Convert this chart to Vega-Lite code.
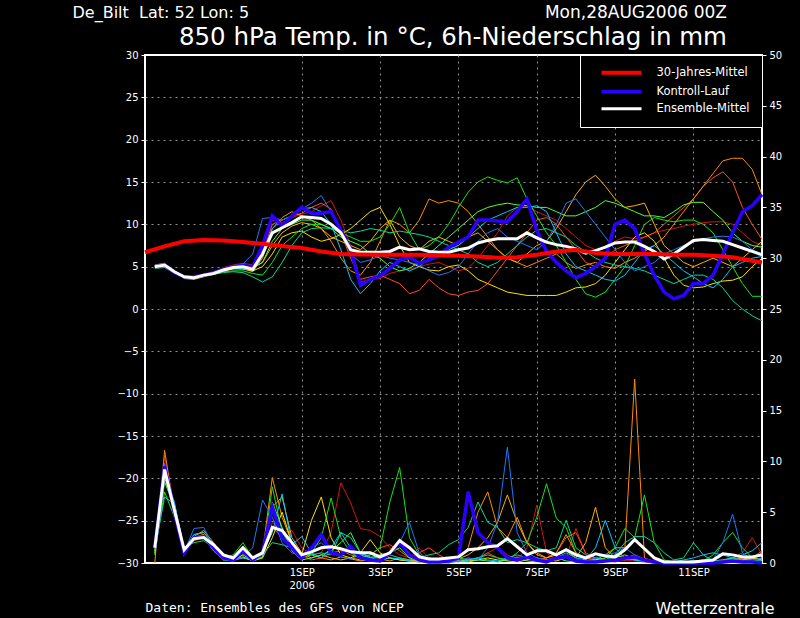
{
  "$schema": "https://vega.github.io/schema/vega-lite/v6.json",
  "width": 617,
  "height": 508,
  "autosize": "none",
  "padding": {"left": 145, "top": 55, "right": 38, "bottom": 55},
  "background": "black",
  "title": {
    "text": "Mon,28AUG2006 00Z",
    "subtitle": "850 hPa Temp. in °C, 6h-Niederschlag in mm",
    "anchor": "end",
    "frame": "group",
    "dx": -35,
    "offset": -46,
    "font": "DejaVu Sans",
    "fontSize": 17,
    "fontWeight": "normal",
    "color": "white",
    "subtitleFont": "DejaVu Sans",
    "subtitleFontSize": 24.5,
    "subtitleColor": "white",
    "subtitlePadding": 4
  },
  "datasets": {
    "members": [
      {"m":1,"h":6,"t":5.1,"p":1.2},{"m":1,"h":12,"t":5.3,"p":10.5},{"m":1,"h":18,"t":4.5,"p":5.5},{"m":1,"h":24,"t":3.9,"p":1.2},{"m":1,"h":30,"t":3.7,"p":2.5},{"m":1,"h":36,"t":4.1,"p":2.8},{"m":1,"h":42,"t":4.4,"p":1.5},{"m":1,"h":48,"t":4.9,"p":0.4},{"m":1,"h":54,"t":5.2,"p":0.3},{"m":1,"h":60,"t":5.4,"p":1.0},{"m":1,"h":66,"t":5.2,"p":0.3},{"m":1,"h":72,"t":7.0,"p":0.8},{"m":1,"h":78,"t":10.5,"p":4.0},{"m":1,"h":84,"t":10.2,"p":3.0},{"m":1,"h":90,"t":10.8,"p":3.2},{"m":1,"h":96,"t":11.2,"p":1.5},{"m":1,"h":102,"t":11.5,"p":0.8},{"m":1,"h":108,"t":12.2,"p":1.0},{"m":1,"h":114,"t":12.8,"p":3.0},{"m":1,"h":120,"t":10.5,"p":7.9},{"m":1,"h":126,"t":7.5,"p":5.9},{"m":1,"h":132,"t":3.2,"p":3.4},{"m":1,"h":138,"t":3.5,"p":3.2},{"m":1,"h":144,"t":3.6,"p":2.6},{"m":1,"h":150,"t":4.2,"p":1.5},{"m":1,"h":156,"t":4.5,"p":0.8},{"m":1,"h":162,"t":4.7,"p":0.5},{"m":1,"h":168,"t":5.0,"p":1.5},{"m":1,"h":174,"t":5.3,"p":0.5},{"m":1,"h":180,"t":5.5,"p":0.2},{"m":1,"h":186,"t":5.0,"p":0.1},{"m":1,"h":192,"t":4.5,"p":0.2},{"m":1,"h":198,"t":4.8,"p":0.5},{"m":1,"h":204,"t":6.0,"p":0.3},{"m":1,"h":210,"t":7.5,"p":1.0},{"m":1,"h":216,"t":9.0,"p":1.5},{"m":1,"h":222,"t":11.0,"p":0.8},{"m":1,"h":228,"t":12.0,"p":0.3},{"m":1,"h":234,"t":12.2,"p":1.5},{"m":1,"h":240,"t":11.5,"p":5.7},{"m":1,"h":246,"t":11.0,"p":1.0},{"m":1,"h":252,"t":10.5,"p":0.3},{"m":1,"h":258,"t":9.5,"p":0.5},{"m":1,"h":264,"t":8.5,"p":3.4},{"m":1,"h":270,"t":7.5,"p":0.8},{"m":1,"h":276,"t":7.0,"p":0.3},{"m":1,"h":282,"t":7.2,"p":0.2},{"m":1,"h":288,"t":8.0,"p":0.1},{"m":1,"h":294,"t":8.5,"p":0.3},{"m":1,"h":300,"t":8.3,"p":0.2},{"m":1,"h":306,"t":8.5,"p":0.1},{"m":1,"h":312,"t":9.0,"p":0},{"m":1,"h":318,"t":9.3,"p":0},{"m":1,"h":324,"t":9.5,"p":0},{"m":1,"h":330,"t":9.8,"p":0.1},{"m":1,"h":336,"t":10.0,"p":0.2},{"m":1,"h":342,"t":10.2,"p":0.1},{"m":1,"h":348,"t":10.3,"p":0},{"m":1,"h":354,"t":10.3,"p":0.3},{"m":1,"h":360,"t":10.0,"p":0.5},{"m":1,"h":366,"t":9.0,"p":1.0},{"m":1,"h":372,"t":8.0,"p":2.5},{"m":1,"h":378,"t":7.5,"p":0.8},
      {"m":2,"h":6,"t":4.8,"p":1.0},{"m":2,"h":12,"t":5.0,"p":9.5},{"m":2,"h":18,"t":4.3,"p":5.0},{"m":2,"h":24,"t":3.7,"p":1.0},{"m":2,"h":30,"t":3.6,"p":2.2},{"m":2,"h":36,"t":3.9,"p":2.5},{"m":2,"h":42,"t":4.1,"p":1.2},{"m":2,"h":48,"t":4.5,"p":0.3},{"m":2,"h":54,"t":4.8,"p":0.5},{"m":2,"h":60,"t":4.9,"p":1.2},{"m":2,"h":66,"t":4.6,"p":0.5},{"m":2,"h":72,"t":6.5,"p":0.6},{"m":2,"h":78,"t":10.0,"p":3.5},{"m":2,"h":84,"t":10.5,"p":2.5},{"m":2,"h":90,"t":11.0,"p":1.5},{"m":2,"h":96,"t":11.3,"p":0.8},{"m":2,"h":102,"t":12.0,"p":0.3},{"m":2,"h":108,"t":12.5,"p":0.5},{"m":2,"h":114,"t":11.8,"p":1.0},{"m":2,"h":120,"t":9.0,"p":1.2},{"m":2,"h":126,"t":6.0,"p":0.8},{"m":2,"h":132,"t":3.5,"p":0.5},{"m":2,"h":138,"t":3.8,"p":0.8},{"m":2,"h":144,"t":4.0,"p":1.5},{"m":2,"h":150,"t":3.5,"p":1.8},{"m":2,"h":156,"t":3.0,"p":1.2},{"m":2,"h":162,"t":1.8,"p":0.5},{"m":2,"h":168,"t":2.2,"p":1.0},{"m":2,"h":174,"t":3.5,"p":1.5},{"m":2,"h":180,"t":2.5,"p":0.8},{"m":2,"h":186,"t":1.8,"p":0.3},{"m":2,"h":192,"t":1.6,"p":0.2},{"m":2,"h":198,"t":2.0,"p":0.3},{"m":2,"h":204,"t":2.2,"p":0.5},{"m":2,"h":210,"t":3.0,"p":1.0},{"m":2,"h":216,"t":4.5,"p":0.5},{"m":2,"h":222,"t":6.0,"p":0.3},{"m":2,"h":228,"t":7.5,"p":0.6},{"m":2,"h":234,"t":9.0,"p":0.4},{"m":2,"h":240,"t":10.5,"p":0.2},{"m":2,"h":246,"t":10.8,"p":0.5},{"m":2,"h":252,"t":10.0,"p":1.0},{"m":2,"h":258,"t":8.5,"p":2.5},{"m":2,"h":264,"t":7.0,"p":3.0},{"m":2,"h":270,"t":5.5,"p":1.0},{"m":2,"h":276,"t":5.0,"p":0.5},{"m":2,"h":282,"t":6.0,"p":0.3},{"m":2,"h":288,"t":7.0,"p":0.2},{"m":2,"h":294,"t":7.5,"p":0.5},{"m":2,"h":300,"t":8.0,"p":0.8},{"m":2,"h":306,"t":8.5,"p":0.4},{"m":2,"h":312,"t":9.0,"p":0.2},{"m":2,"h":318,"t":10.0,"p":0.1},{"m":2,"h":324,"t":11.0,"p":0},{"m":2,"h":330,"t":12.0,"p":0},{"m":2,"h":336,"t":13.0,"p":0},{"m":2,"h":342,"t":14.5,"p":0},{"m":2,"h":348,"t":15.5,"p":0.2},{"m":2,"h":354,"t":16.2,"p":0.3},{"m":2,"h":360,"t":15.0,"p":0.5},{"m":2,"h":366,"t":12.0,"p":0.3},{"m":2,"h":372,"t":10.0,"p":0.5},{"m":2,"h":378,"t":8.2,"p":1.2},
      {"m":3,"h":6,"t":5.0,"p":0},{"m":3,"h":12,"t":5.2,"p":11.1},{"m":3,"h":18,"t":4.4,"p":5.0},{"m":3,"h":24,"t":3.8,"p":1.3},{"m":3,"h":30,"t":3.7,"p":2.8},{"m":3,"h":36,"t":3.9,"p":3.0},{"m":3,"h":42,"t":4.2,"p":1.8},{"m":3,"h":48,"t":4.5,"p":0.5},{"m":3,"h":54,"t":4.7,"p":0.2},{"m":3,"h":60,"t":4.8,"p":0.8},{"m":3,"h":66,"t":4.4,"p":0.2},{"m":3,"h":72,"t":6.0,"p":1.0},{"m":3,"h":78,"t":9.5,"p":8.4},{"m":3,"h":84,"t":10.8,"p":4.5},{"m":3,"h":90,"t":11.5,"p":2.0},{"m":3,"h":96,"t":11.0,"p":0.5},{"m":3,"h":102,"t":10.5,"p":0.8},{"m":3,"h":108,"t":9.5,"p":0.5},{"m":3,"h":114,"t":8.0,"p":0.3},{"m":3,"h":120,"t":6.0,"p":0.6},{"m":3,"h":126,"t":4.5,"p":0.4},{"m":3,"h":132,"t":4.0,"p":0.2},{"m":3,"h":138,"t":5.5,"p":0.3},{"m":3,"h":144,"t":8.0,"p":0.4},{"m":3,"h":150,"t":10.5,"p":0.2},{"m":3,"h":156,"t":10.0,"p":0.5},{"m":3,"h":162,"t":9.0,"p":0.3},{"m":3,"h":168,"t":10.5,"p":0.1},{"m":3,"h":174,"t":13.0,"p":0},{"m":3,"h":180,"t":12.5,"p":0.1},{"m":3,"h":186,"t":12.8,"p":0.3},{"m":3,"h":192,"t":12.5,"p":0.5},{"m":3,"h":198,"t":11.5,"p":1.5},{"m":3,"h":204,"t":10.0,"p":5.0},{"m":3,"h":210,"t":8.5,"p":7.0},{"m":3,"h":216,"t":7.0,"p":3.5},{"m":3,"h":222,"t":6.0,"p":2.5},{"m":3,"h":228,"t":5.5,"p":4.5},{"m":3,"h":234,"t":5.0,"p":2.0},{"m":3,"h":240,"t":5.5,"p":0.8},{"m":3,"h":246,"t":6.0,"p":0.5},{"m":3,"h":252,"t":6.5,"p":1.0},{"m":3,"h":258,"t":5.5,"p":2.8},{"m":3,"h":264,"t":4.8,"p":1.0},{"m":3,"h":270,"t":5.2,"p":0.5},{"m":3,"h":276,"t":5.5,"p":0.3},{"m":3,"h":282,"t":5.0,"p":0.8},{"m":3,"h":288,"t":4.8,"p":1.5},{"m":3,"h":294,"t":5.5,"p":1.5},{"m":3,"h":300,"t":6.0,"p":18.1},{"m":3,"h":306,"t":6.8,"p":0.5},{"m":3,"h":312,"t":7.5,"p":0.1},{"m":3,"h":318,"t":8.5,"p":0},{"m":3,"h":324,"t":10.0,"p":0},{"m":3,"h":330,"t":11.5,"p":0.1},{"m":3,"h":336,"t":13.0,"p":0.2},{"m":3,"h":342,"t":14.5,"p":0},{"m":3,"h":348,"t":16.0,"p":0},{"m":3,"h":354,"t":17.5,"p":0.1},{"m":3,"h":360,"t":17.8,"p":0.3},{"m":3,"h":366,"t":17.8,"p":0.5},{"m":3,"h":372,"t":16.5,"p":0.3},{"m":3,"h":378,"t":13.5,"p":0.5},
      {"m":4,"h":6,"t":5.2,"p":1.5},{"m":4,"h":12,"t":5.4,"p":9.0},{"m":4,"h":18,"t":4.5,"p":4.8},{"m":4,"h":24,"t":3.6,"p":1.0},{"m":4,"h":30,"t":3.5,"p":2.6},{"m":4,"h":36,"t":3.8,"p":3.2},{"m":4,"h":42,"t":4.1,"p":2.0},{"m":4,"h":48,"t":4.6,"p":0.6},{"m":4,"h":54,"t":5.0,"p":0.3},{"m":4,"h":60,"t":5.1,"p":0.5},{"m":4,"h":66,"t":4.8,"p":0.3},{"m":4,"h":72,"t":5.5,"p":1.2},{"m":4,"h":78,"t":7.5,"p":5.5},{"m":4,"h":84,"t":9.0,"p":6.5},{"m":4,"h":90,"t":9.8,"p":2.5},{"m":4,"h":96,"t":10.2,"p":1.0},{"m":4,"h":102,"t":10.0,"p":0.5},{"m":4,"h":108,"t":9.5,"p":0.8},{"m":4,"h":114,"t":8.5,"p":0.5},{"m":4,"h":120,"t":8.0,"p":0.3},{"m":4,"h":126,"t":7.5,"p":0.5},{"m":4,"h":132,"t":7.0,"p":0.3},{"m":4,"h":138,"t":8.0,"p":0.2},{"m":4,"h":144,"t":9.5,"p":0.3},{"m":4,"h":150,"t":10.5,"p":0.5},{"m":4,"h":156,"t":8.5,"p":0.3},{"m":4,"h":162,"t":7.5,"p":0.2},{"m":4,"h":168,"t":7.0,"p":0.3},{"m":4,"h":174,"t":8.0,"p":0.5},{"m":4,"h":180,"t":8.5,"p":0.3},{"m":4,"h":186,"t":8.0,"p":0.2},{"m":4,"h":192,"t":7.5,"p":0.4},{"m":4,"h":198,"t":8.5,"p":0.8},{"m":4,"h":204,"t":9.0,"p":1.5},{"m":4,"h":210,"t":8.0,"p":2.5},{"m":4,"h":216,"t":7.0,"p":4.0},{"m":4,"h":222,"t":6.0,"p":6.7},{"m":4,"h":228,"t":5.5,"p":4.0},{"m":4,"h":234,"t":6.5,"p":2.0},{"m":4,"h":240,"t":7.5,"p":1.0},{"m":4,"h":246,"t":8.0,"p":0.5},{"m":4,"h":252,"t":9.5,"p":0.8},{"m":4,"h":258,"t":11.5,"p":1.2},{"m":4,"h":264,"t":13.5,"p":0.5},{"m":4,"h":270,"t":15.0,"p":2.0},{"m":4,"h":276,"t":15.8,"p":5.5},{"m":4,"h":282,"t":14.5,"p":1.5},{"m":4,"h":288,"t":13.0,"p":0.5},{"m":4,"h":294,"t":12.0,"p":0.3},{"m":4,"h":300,"t":12.2,"p":0.5},{"m":4,"h":306,"t":12.5,"p":0.2},{"m":4,"h":312,"t":10.0,"p":0.1},{"m":4,"h":318,"t":7.5,"p":0},{"m":4,"h":324,"t":6.5,"p":0.1},{"m":4,"h":330,"t":5.5,"p":0},{"m":4,"h":336,"t":5.0,"p":0.2},{"m":4,"h":342,"t":5.5,"p":0.3},{"m":4,"h":348,"t":6.0,"p":0.1},{"m":4,"h":354,"t":5.5,"p":0},{"m":4,"h":360,"t":5.0,"p":0.2},{"m":4,"h":366,"t":6.0,"p":0.3},{"m":4,"h":372,"t":7.0,"p":0.5},{"m":4,"h":378,"t":8.0,"p":0.3},
      {"m":5,"h":6,"t":5.1,"p":1.2},{"m":5,"h":12,"t":5.1,"p":8.5},{"m":5,"h":18,"t":4.3,"p":5.0},{"m":5,"h":24,"t":3.8,"p":1.2},{"m":5,"h":30,"t":3.8,"p":2.5},{"m":5,"h":36,"t":4.1,"p":2.8},{"m":5,"h":42,"t":4.3,"p":1.5},{"m":5,"h":48,"t":4.5,"p":0.5},{"m":5,"h":54,"t":4.8,"p":0.3},{"m":5,"h":60,"t":4.7,"p":0.6},{"m":5,"h":66,"t":4.5,"p":0.2},{"m":5,"h":72,"t":5.0,"p":0.5},{"m":5,"h":78,"t":6.5,"p":2.5},{"m":5,"h":84,"t":8.5,"p":5.0},{"m":5,"h":90,"t":9.0,"p":2.0},{"m":5,"h":96,"t":9.2,"p":0.8},{"m":5,"h":102,"t":8.5,"p":4.2},{"m":5,"h":108,"t":8.0,"p":6.5},{"m":5,"h":114,"t":8.3,"p":2.5},{"m":5,"h":120,"t":8.8,"p":0.8},{"m":5,"h":126,"t":9.5,"p":0.5},{"m":5,"h":132,"t":10.5,"p":1.0},{"m":5,"h":138,"t":11.5,"p":2.3},{"m":5,"h":144,"t":12.0,"p":1.0},{"m":5,"h":150,"t":10.0,"p":0.5},{"m":5,"h":156,"t":7.5,"p":0.3},{"m":5,"h":162,"t":5.5,"p":0.2},{"m":5,"h":168,"t":5.0,"p":0.1},{"m":5,"h":174,"t":4.6,"p":0.2},{"m":5,"h":180,"t":4.5,"p":0.3},{"m":5,"h":186,"t":5.0,"p":0.5},{"m":5,"h":192,"t":5.2,"p":0.3},{"m":5,"h":198,"t":4.5,"p":0.2},{"m":5,"h":204,"t":3.5,"p":0.3},{"m":5,"h":210,"t":3.0,"p":0.5},{"m":5,"h":216,"t":2.5,"p":0.3},{"m":5,"h":222,"t":2.0,"p":0.2},{"m":5,"h":228,"t":1.8,"p":0.1},{"m":5,"h":234,"t":1.6,"p":0.3},{"m":5,"h":240,"t":1.6,"p":0.5},{"m":5,"h":246,"t":1.6,"p":0.3},{"m":5,"h":252,"t":1.6,"p":0.2},{"m":5,"h":258,"t":2.0,"p":0.5},{"m":5,"h":264,"t":2.5,"p":0.3},{"m":5,"h":270,"t":2.6,"p":0.2},{"m":5,"h":276,"t":3.0,"p":0.3},{"m":5,"h":282,"t":4.0,"p":0.5},{"m":5,"h":288,"t":5.5,"p":0.8},{"m":5,"h":294,"t":7.0,"p":0.5},{"m":5,"h":300,"t":8.5,"p":0.3},{"m":5,"h":306,"t":9.0,"p":0.2},{"m":5,"h":312,"t":8.0,"p":0.1},{"m":5,"h":318,"t":6.0,"p":0},{"m":5,"h":324,"t":4.0,"p":0},{"m":5,"h":330,"t":2.8,"p":0},{"m":5,"h":336,"t":2.5,"p":0.1},{"m":5,"h":342,"t":2.6,"p":0.2},{"m":5,"h":348,"t":3.0,"p":0.1},{"m":5,"h":354,"t":3.3,"p":0},{"m":5,"h":360,"t":3.4,"p":0.1},{"m":5,"h":366,"t":3.8,"p":0.3},{"m":5,"h":372,"t":5.0,"p":0.5},{"m":5,"h":378,"t":6.0,"p":0.4},
      {"m":6,"h":6,"t":4.9,"p":1.0},{"m":6,"h":12,"t":5.0,"p":7.0},{"m":6,"h":18,"t":4.3,"p":4.5},{"m":6,"h":24,"t":3.9,"p":1.5},{"m":6,"h":30,"t":3.8,"p":2.0},{"m":6,"h":36,"t":4.1,"p":2.2},{"m":6,"h":42,"t":4.2,"p":1.5},{"m":6,"h":48,"t":4.4,"p":0.5},{"m":6,"h":54,"t":4.5,"p":0.8},{"m":6,"h":60,"t":4.5,"p":2.0},{"m":6,"h":66,"t":4.2,"p":0.5},{"m":6,"h":72,"t":4.0,"p":0.5},{"m":6,"h":78,"t":5.5,"p":7.5},{"m":6,"h":84,"t":7.5,"p":3.0},{"m":6,"h":90,"t":8.5,"p":1.5},{"m":6,"h":96,"t":9.5,"p":0.5},{"m":6,"h":102,"t":10.0,"p":1.0},{"m":6,"h":108,"t":10.0,"p":2.5},{"m":6,"h":114,"t":9.5,"p":6.4},{"m":6,"h":120,"t":9.0,"p":2.5},{"m":6,"h":126,"t":8.5,"p":1.0},{"m":6,"h":132,"t":8.0,"p":0.5},{"m":6,"h":138,"t":8.0,"p":0.8},{"m":6,"h":144,"t":8.5,"p":1.5},{"m":6,"h":150,"t":10.0,"p":6.0},{"m":6,"h":156,"t":12.0,"p":9.4},{"m":6,"h":162,"t":9.0,"p":2.5},{"m":6,"h":168,"t":7.0,"p":0.8},{"m":6,"h":174,"t":7.5,"p":0.3},{"m":6,"h":180,"t":8.5,"p":0.2},{"m":6,"h":186,"t":10.0,"p":0.3},{"m":6,"h":192,"t":12.0,"p":0.5},{"m":6,"h":198,"t":13.8,"p":0.3},{"m":6,"h":204,"t":15.0,"p":0.5},{"m":6,"h":210,"t":15.6,"p":0.8},{"m":6,"h":216,"t":15.2,"p":0.5},{"m":6,"h":222,"t":14.9,"p":0.3},{"m":6,"h":228,"t":15.5,"p":1.0},{"m":6,"h":234,"t":13.0,"p":2.0},{"m":6,"h":240,"t":11.0,"p":4.5},{"m":6,"h":246,"t":9.0,"p":7.8},{"m":6,"h":252,"t":7.5,"p":4.4},{"m":6,"h":258,"t":5.5,"p":3.5},{"m":6,"h":264,"t":3.5,"p":1.0},{"m":6,"h":270,"t":1.8,"p":0.3},{"m":6,"h":276,"t":1.4,"p":0.2},{"m":6,"h":282,"t":2.0,"p":0.5},{"m":6,"h":288,"t":3.5,"p":1.5},{"m":6,"h":294,"t":5.0,"p":3.4},{"m":6,"h":300,"t":7.5,"p":2.5},{"m":6,"h":306,"t":10.0,"p":6.7},{"m":6,"h":312,"t":10.8,"p":2.0},{"m":6,"h":318,"t":10.5,"p":0.3},{"m":6,"h":324,"t":10.3,"p":0.1},{"m":6,"h":330,"t":10.5,"p":0},{"m":6,"h":336,"t":10.5,"p":0},{"m":6,"h":342,"t":10.0,"p":0.2},{"m":6,"h":348,"t":9.0,"p":0.8},{"m":6,"h":354,"t":7.0,"p":2.0},{"m":6,"h":360,"t":5.0,"p":3.0},{"m":6,"h":366,"t":3.0,"p":1.5},{"m":6,"h":372,"t":1.5,"p":0.5},{"m":6,"h":378,"t":1.5,"p":1.0},
      {"m":7,"h":6,"t":5.0,"p":0.8},{"m":7,"h":12,"t":5.1,"p":8.0},{"m":7,"h":18,"t":4.4,"p":5.5},{"m":7,"h":24,"t":3.7,"p":1.0},{"m":7,"h":30,"t":3.6,"p":2.3},{"m":7,"h":36,"t":4.0,"p":2.6},{"m":7,"h":42,"t":4.3,"p":1.8},{"m":7,"h":48,"t":4.7,"p":0.8},{"m":7,"h":54,"t":5.1,"p":0.3},{"m":7,"h":60,"t":5.2,"p":0.8},{"m":7,"h":66,"t":4.9,"p":0.3},{"m":7,"h":72,"t":5.5,"p":0.5},{"m":7,"h":78,"t":8.0,"p":6.0},{"m":7,"h":84,"t":9.5,"p":3.5},{"m":7,"h":90,"t":10.0,"p":1.2},{"m":7,"h":96,"t":10.5,"p":0.3},{"m":7,"h":102,"t":10.5,"p":0.5},{"m":7,"h":108,"t":10.0,"p":0.8},{"m":7,"h":114,"t":9.5,"p":1.2},{"m":7,"h":120,"t":8.5,"p":2.0},{"m":7,"h":126,"t":8.0,"p":3.0},{"m":7,"h":132,"t":7.5,"p":1.0},{"m":7,"h":138,"t":6.5,"p":0.5},{"m":7,"h":144,"t":6.0,"p":0.8},{"m":7,"h":150,"t":5.0,"p":1.0},{"m":7,"h":156,"t":4.5,"p":1.5},{"m":7,"h":162,"t":4.8,"p":0.5},{"m":7,"h":168,"t":5.5,"p":0.2},{"m":7,"h":174,"t":6.5,"p":0.1},{"m":7,"h":180,"t":7.5,"p":0},{"m":7,"h":186,"t":8.5,"p":0},{"m":7,"h":192,"t":9.5,"p":0.2},{"m":7,"h":198,"t":10.5,"p":0.1},{"m":7,"h":204,"t":11.5,"p":0.3},{"m":7,"h":210,"t":12.0,"p":0.2},{"m":7,"h":216,"t":12.3,"p":0.1},{"m":7,"h":222,"t":12.5,"p":0.3},{"m":7,"h":228,"t":12.3,"p":0.5},{"m":7,"h":234,"t":12.2,"p":0.2},{"m":7,"h":240,"t":12.0,"p":0.1},{"m":7,"h":246,"t":12.0,"p":0.3},{"m":7,"h":252,"t":11.5,"p":0.5},{"m":7,"h":258,"t":11.0,"p":0.2},{"m":7,"h":264,"t":11.0,"p":0.1},{"m":7,"h":270,"t":11.5,"p":0},{"m":7,"h":276,"t":12.0,"p":0.1},{"m":7,"h":282,"t":12.8,"p":0.3},{"m":7,"h":288,"t":12.5,"p":0.5},{"m":7,"h":294,"t":12.0,"p":0.8},{"m":7,"h":300,"t":11.5,"p":0.4},{"m":7,"h":306,"t":11.0,"p":0.2},{"m":7,"h":312,"t":11.0,"p":0},{"m":7,"h":318,"t":10.8,"p":0},{"m":7,"h":324,"t":11.5,"p":0},{"m":7,"h":330,"t":12.3,"p":0.1},{"m":7,"h":336,"t":12.6,"p":0.2},{"m":7,"h":342,"t":12.6,"p":0.1},{"m":7,"h":348,"t":11.5,"p":0},{"m":7,"h":354,"t":10.5,"p":0.2},{"m":7,"h":360,"t":9.0,"p":0.4},{"m":7,"h":366,"t":8.0,"p":0.2},{"m":7,"h":372,"t":7.5,"p":0.1},{"m":7,"h":378,"t":7.3,"p":0.2},
      {"m":8,"h":6,"t":4.8,"p":1.3},{"m":8,"h":12,"t":4.9,"p":6.5},{"m":8,"h":18,"t":4.2,"p":5.8},{"m":8,"h":24,"t":3.8,"p":1.4},{"m":8,"h":30,"t":3.8,"p":2.4},{"m":8,"h":36,"t":3.9,"p":2.5},{"m":8,"h":42,"t":4.1,"p":1.2},{"m":8,"h":48,"t":4.3,"p":0.3},{"m":8,"h":54,"t":4.4,"p":0.2},{"m":8,"h":60,"t":4.3,"p":1.5},{"m":8,"h":66,"t":3.8,"p":0.5},{"m":8,"h":72,"t":3.2,"p":0.8},{"m":8,"h":78,"t":3.8,"p":2.0},{"m":8,"h":84,"t":5.5,"p":1.8},{"m":8,"h":90,"t":7.5,"p":1.5},{"m":8,"h":96,"t":9.0,"p":1.0},{"m":8,"h":102,"t":9.5,"p":0.8},{"m":8,"h":108,"t":9.6,"p":1.0},{"m":8,"h":114,"t":9.5,"p":0.8},{"m":8,"h":120,"t":9.3,"p":3.0},{"m":8,"h":126,"t":9.0,"p":2.5},{"m":8,"h":132,"t":9.2,"p":1.0},{"m":8,"h":138,"t":9.5,"p":0.6},{"m":8,"h":144,"t":9.3,"p":0.5},{"m":8,"h":150,"t":9.0,"p":0.8},{"m":8,"h":156,"t":9.2,"p":0.5},{"m":8,"h":162,"t":9.0,"p":0.3},{"m":8,"h":168,"t":8.8,"p":0.5},{"m":8,"h":174,"t":8.5,"p":0.8},{"m":8,"h":180,"t":8.0,"p":1.0},{"m":8,"h":186,"t":7.5,"p":1.8},{"m":8,"h":192,"t":7.0,"p":2.3},{"m":8,"h":198,"t":6.5,"p":3.5},{"m":8,"h":204,"t":5.5,"p":6.0},{"m":8,"h":210,"t":5.0,"p":4.0},{"m":8,"h":216,"t":5.5,"p":3.5},{"m":8,"h":222,"t":6.5,"p":2.0},{"m":8,"h":228,"t":7.5,"p":2.3},{"m":8,"h":234,"t":8.5,"p":2.0},{"m":8,"h":240,"t":9.3,"p":1.5},{"m":8,"h":246,"t":9.5,"p":1.2},{"m":8,"h":252,"t":9.0,"p":1.5},{"m":8,"h":258,"t":8.5,"p":4.2},{"m":8,"h":264,"t":7.5,"p":1.5},{"m":8,"h":270,"t":6.8,"p":0.8},{"m":8,"h":276,"t":6.0,"p":0.5},{"m":8,"h":282,"t":5.5,"p":0.3},{"m":8,"h":288,"t":5.2,"p":0.8},{"m":8,"h":294,"t":5.0,"p":2.0},{"m":8,"h":300,"t":4.8,"p":2.6},{"m":8,"h":306,"t":4.5,"p":2.6},{"m":8,"h":312,"t":4.0,"p":2.0},{"m":8,"h":318,"t":3.5,"p":1.0},{"m":8,"h":324,"t":3.0,"p":0.3},{"m":8,"h":330,"t":3.5,"p":0.5},{"m":8,"h":336,"t":4.0,"p":2.0},{"m":8,"h":342,"t":4.0,"p":0.8},{"m":8,"h":348,"t":3.5,"p":0.2},{"m":8,"h":354,"t":2.5,"p":0.3},{"m":8,"h":360,"t":1.0,"p":0.5},{"m":8,"h":366,"t":0.0,"p":0.3},{"m":8,"h":372,"t":-0.8,"p":0.2},{"m":8,"h":378,"t":-1.4,"p":0.3},
      {"m":9,"h":6,"t":5.0,"p":1.5},{"m":9,"h":12,"t":5.2,"p":8.8},{"m":9,"h":18,"t":4.4,"p":6.0},{"m":9,"h":24,"t":3.7,"p":1.3},{"m":9,"h":30,"t":3.6,"p":2.8},{"m":9,"h":36,"t":3.9,"p":3.0},{"m":9,"h":42,"t":4.2,"p":1.8},{"m":9,"h":48,"t":4.6,"p":0.6},{"m":9,"h":54,"t":4.8,"p":0.3},{"m":9,"h":60,"t":4.8,"p":0.5},{"m":9,"h":66,"t":4.6,"p":0.3},{"m":9,"h":72,"t":6.5,"p":1.0},{"m":9,"h":78,"t":9.5,"p":3.0},{"m":9,"h":84,"t":10.5,"p":6.8},{"m":9,"h":90,"t":11.0,"p":1.8},{"m":9,"h":96,"t":11.8,"p":2.6},{"m":9,"h":102,"t":12.0,"p":1.0},{"m":9,"h":108,"t":11.5,"p":0.5},{"m":9,"h":114,"t":10.0,"p":1.5},{"m":9,"h":120,"t":7.0,"p":3.0},{"m":9,"h":126,"t":3.5,"p":1.5},{"m":9,"h":132,"t":1.8,"p":0.8},{"m":9,"h":138,"t":3.0,"p":0.5},{"m":9,"h":144,"t":4.5,"p":0.3},{"m":9,"h":150,"t":5.5,"p":0.5},{"m":9,"h":156,"t":5.0,"p":0.4},{"m":9,"h":162,"t":4.5,"p":0.2},{"m":9,"h":168,"t":5.0,"p":0.1},{"m":9,"h":174,"t":6.0,"p":0.2},{"m":9,"h":180,"t":6.5,"p":0.3},{"m":9,"h":186,"t":7.0,"p":0.2},{"m":9,"h":192,"t":7.5,"p":0.1},{"m":9,"h":198,"t":8.5,"p":0.3},{"m":9,"h":204,"t":9.5,"p":0.5},{"m":9,"h":210,"t":10.5,"p":0.3},{"m":9,"h":216,"t":11.0,"p":0.2},{"m":9,"h":222,"t":11.5,"p":0.5},{"m":9,"h":228,"t":12.0,"p":0.8},{"m":9,"h":234,"t":12.0,"p":0.5},{"m":9,"h":240,"t":12.2,"p":0.3},{"m":9,"h":246,"t":11.5,"p":0.2},{"m":9,"h":252,"t":9.0,"p":0.5},{"m":9,"h":258,"t":6.5,"p":1.0},{"m":9,"h":264,"t":5.0,"p":0.5},{"m":9,"h":270,"t":4.5,"p":0.3},{"m":9,"h":276,"t":4.0,"p":1.5},{"m":9,"h":282,"t":3.5,"p":4.2},{"m":9,"h":288,"t":3.3,"p":1.5},{"m":9,"h":294,"t":4.0,"p":0.5},{"m":9,"h":300,"t":5.5,"p":0.3},{"m":9,"h":306,"t":7.0,"p":0.2},{"m":9,"h":312,"t":7.5,"p":0.1},{"m":9,"h":318,"t":6.5,"p":0},{"m":9,"h":324,"t":5.5,"p":0.1},{"m":9,"h":330,"t":4.5,"p":0.3},{"m":9,"h":336,"t":3.8,"p":0.5},{"m":9,"h":342,"t":3.0,"p":0.8},{"m":9,"h":348,"t":2.5,"p":1.0},{"m":9,"h":354,"t":3.5,"p":0.8},{"m":9,"h":360,"t":5.0,"p":0.5},{"m":9,"h":366,"t":5.5,"p":0.8},{"m":9,"h":372,"t":6.0,"p":1.2},{"m":9,"h":378,"t":6.2,"p":2.0},
      {"m":10,"h":6,"t":5.1,"p":1.3},{"m":10,"h":12,"t":5.3,"p":9.8},{"m":10,"h":18,"t":4.5,"p":5.2},{"m":10,"h":24,"t":3.9,"p":1.1},{"m":10,"h":30,"t":3.8,"p":3.4},{"m":10,"h":36,"t":4.1,"p":3.5},{"m":10,"h":42,"t":4.4,"p":1.6},{"m":10,"h":48,"t":4.8,"p":0.4},{"m":10,"h":54,"t":5.1,"p":0.2},{"m":10,"h":60,"t":5.3,"p":0.6},{"m":10,"h":66,"t":6.5,"p":1.5},{"m":10,"h":72,"t":10.7,"p":6.2},{"m":10,"h":78,"t":10.8,"p":4.5},{"m":10,"h":84,"t":10.5,"p":2.0},{"m":10,"h":90,"t":11.0,"p":1.0},{"m":10,"h":96,"t":11.8,"p":0.8},{"m":10,"h":102,"t":12.5,"p":1.5},{"m":10,"h":108,"t":13.4,"p":2.0},{"m":10,"h":114,"t":11.5,"p":1.0},{"m":10,"h":120,"t":9.0,"p":0.6},{"m":10,"h":126,"t":6.5,"p":0.4},{"m":10,"h":132,"t":5.5,"p":0.8},{"m":10,"h":138,"t":5.8,"p":1.0},{"m":10,"h":144,"t":6.3,"p":0.5},{"m":10,"h":150,"t":6.0,"p":1.0},{"m":10,"h":156,"t":5.8,"p":2.0},{"m":10,"h":162,"t":5.5,"p":4.0},{"m":10,"h":168,"t":5.2,"p":1.0},{"m":10,"h":174,"t":4.5,"p":0.3},{"m":10,"h":180,"t":4.0,"p":0.1},{"m":10,"h":186,"t":4.3,"p":0},{"m":10,"h":192,"t":5.0,"p":0.2},{"m":10,"h":198,"t":6.5,"p":0.5},{"m":10,"h":204,"t":8.0,"p":0.3},{"m":10,"h":210,"t":9.0,"p":1.5},{"m":10,"h":216,"t":9.5,"p":4.0},{"m":10,"h":222,"t":8.5,"p":11.4},{"m":10,"h":228,"t":8.0,"p":3.0},{"m":10,"h":234,"t":7.5,"p":1.0},{"m":10,"h":240,"t":7.0,"p":0.5},{"m":10,"h":246,"t":8.0,"p":0.3},{"m":10,"h":252,"t":10.0,"p":0.5},{"m":10,"h":258,"t":12.5,"p":0.8},{"m":10,"h":264,"t":13.0,"p":0.3},{"m":10,"h":270,"t":11.5,"p":0.2},{"m":10,"h":276,"t":10.0,"p":0.5},{"m":10,"h":282,"t":8.5,"p":0.8},{"m":10,"h":288,"t":7.0,"p":1.0},{"m":10,"h":294,"t":5.5,"p":1.5},{"m":10,"h":300,"t":4.5,"p":0.8},{"m":10,"h":306,"t":5.0,"p":0.3},{"m":10,"h":312,"t":5.5,"p":0.1},{"m":10,"h":318,"t":6.5,"p":0},{"m":10,"h":324,"t":7.0,"p":0},{"m":10,"h":330,"t":7.5,"p":0.1},{"m":10,"h":336,"t":8.0,"p":0.2},{"m":10,"h":342,"t":8.3,"p":0.1},{"m":10,"h":348,"t":8.5,"p":0.3},{"m":10,"h":354,"t":8.6,"p":2.0},{"m":10,"h":360,"t":8.5,"p":4.8},{"m":10,"h":366,"t":8.0,"p":1.0},{"m":10,"h":372,"t":7.0,"p":0.3},{"m":10,"h":378,"t":6.5,"p":0.5}
    ],
    "main": [
      {"s":"Kontroll-Lauf","h":6,"t":5.0,"p":1.5},{"s":"Kontroll-Lauf","h":12,"t":5.2,"p":9.5},{"s":"Kontroll-Lauf","h":18,"t":4.3,"p":5.0},{"s":"Kontroll-Lauf","h":24,"t":3.8,"p":1.0},{"s":"Kontroll-Lauf","h":30,"t":3.8,"p":2.5},{"s":"Kontroll-Lauf","h":36,"t":4.0,"p":2.6},{"s":"Kontroll-Lauf","h":42,"t":4.3,"p":1.5},{"s":"Kontroll-Lauf","h":48,"t":4.7,"p":0.5},{"s":"Kontroll-Lauf","h":54,"t":5.0,"p":0.3},{"s":"Kontroll-Lauf","h":60,"t":5.1,"p":1.2},{"s":"Kontroll-Lauf","h":66,"t":5.0,"p":0.3},{"s":"Kontroll-Lauf","h":72,"t":7.5,"p":1.0},{"s":"Kontroll-Lauf","h":78,"t":11.0,"p":5.5},{"s":"Kontroll-Lauf","h":84,"t":9.8,"p":2.5},{"s":"Kontroll-Lauf","h":90,"t":11.0,"p":1.5},{"s":"Kontroll-Lauf","h":96,"t":12.0,"p":0.5},{"s":"Kontroll-Lauf","h":102,"t":11.3,"p":1.5},{"s":"Kontroll-Lauf","h":108,"t":11.3,"p":2.8},{"s":"Kontroll-Lauf","h":114,"t":11.5,"p":1.0},{"s":"Kontroll-Lauf","h":120,"t":9.3,"p":0.8},{"s":"Kontroll-Lauf","h":126,"t":7.0,"p":1.6},{"s":"Kontroll-Lauf","h":132,"t":2.8,"p":0.5},{"s":"Kontroll-Lauf","h":138,"t":3.5,"p":0.3},{"s":"Kontroll-Lauf","h":144,"t":3.9,"p":0.2},{"s":"Kontroll-Lauf","h":150,"t":4.8,"p":1.0},{"s":"Kontroll-Lauf","h":156,"t":5.8,"p":2.0},{"s":"Kontroll-Lauf","h":162,"t":6.1,"p":0.8},{"s":"Kontroll-Lauf","h":168,"t":5.4,"p":0.3},{"s":"Kontroll-Lauf","h":174,"t":5.8,"p":0.1},{"s":"Kontroll-Lauf","h":180,"t":6.3,"p":0.1},{"s":"Kontroll-Lauf","h":186,"t":7.3,"p":0.2},{"s":"Kontroll-Lauf","h":192,"t":7.9,"p":0.5},{"s":"Kontroll-Lauf","h":198,"t":8.5,"p":7.0},{"s":"Kontroll-Lauf","h":204,"t":10.5,"p":3.0},{"s":"Kontroll-Lauf","h":210,"t":10.5,"p":2.0},{"s":"Kontroll-Lauf","h":216,"t":10.4,"p":1.5},{"s":"Kontroll-Lauf","h":222,"t":10.3,"p":0.5},{"s":"Kontroll-Lauf","h":228,"t":11.5,"p":0.3},{"s":"Kontroll-Lauf","h":234,"t":13.0,"p":0.6},{"s":"Kontroll-Lauf","h":240,"t":9.3,"p":0.3},{"s":"Kontroll-Lauf","h":246,"t":6.8,"p":0.1},{"s":"Kontroll-Lauf","h":252,"t":5.5,"p":0.5},{"s":"Kontroll-Lauf","h":258,"t":4.5,"p":0.6},{"s":"Kontroll-Lauf","h":264,"t":3.7,"p":0.2},{"s":"Kontroll-Lauf","h":270,"t":4.2,"p":0.1},{"s":"Kontroll-Lauf","h":276,"t":5.0,"p":0.1},{"s":"Kontroll-Lauf","h":282,"t":6.0,"p":0.2},{"s":"Kontroll-Lauf","h":288,"t":10.0,"p":0.3},{"s":"Kontroll-Lauf","h":294,"t":10.5,"p":0.5},{"s":"Kontroll-Lauf","h":300,"t":9.5,"p":0.6},{"s":"Kontroll-Lauf","h":306,"t":6.5,"p":0.3},{"s":"Kontroll-Lauf","h":312,"t":4.0,"p":0.1},{"s":"Kontroll-Lauf","h":318,"t":2.0,"p":0},{"s":"Kontroll-Lauf","h":324,"t":1.2,"p":0},{"s":"Kontroll-Lauf","h":330,"t":1.6,"p":0},{"s":"Kontroll-Lauf","h":336,"t":3.0,"p":0},{"s":"Kontroll-Lauf","h":342,"t":3.0,"p":0},{"s":"Kontroll-Lauf","h":348,"t":4.0,"p":0},{"s":"Kontroll-Lauf","h":354,"t":6.5,"p":0.1},{"s":"Kontroll-Lauf","h":360,"t":9.0,"p":0.2},{"s":"Kontroll-Lauf","h":366,"t":11.5,"p":0.1},{"s":"Kontroll-Lauf","h":372,"t":12.2,"p":0.1},{"s":"Kontroll-Lauf","h":378,"t":13.5,"p":0},
      {"s":"Ensemble-Mittel","h":6,"t":5.0,"p":1.5},{"s":"Ensemble-Mittel","h":12,"t":5.2,"p":9.2},{"s":"Ensemble-Mittel","h":18,"t":4.4,"p":5.2},{"s":"Ensemble-Mittel","h":24,"t":3.8,"p":1.3},{"s":"Ensemble-Mittel","h":30,"t":3.7,"p":2.4},{"s":"Ensemble-Mittel","h":36,"t":4.0,"p":2.5},{"s":"Ensemble-Mittel","h":42,"t":4.2,"p":1.8},{"s":"Ensemble-Mittel","h":48,"t":4.6,"p":0.8},{"s":"Ensemble-Mittel","h":54,"t":4.9,"p":0.5},{"s":"Ensemble-Mittel","h":60,"t":5.0,"p":1.5},{"s":"Ensemble-Mittel","h":66,"t":4.7,"p":0.5},{"s":"Ensemble-Mittel","h":72,"t":6.5,"p":1.0},{"s":"Ensemble-Mittel","h":78,"t":9.0,"p":3.5},{"s":"Ensemble-Mittel","h":84,"t":9.6,"p":3.2},{"s":"Ensemble-Mittel","h":90,"t":10.2,"p":2.0},{"s":"Ensemble-Mittel","h":96,"t":10.9,"p":0.8},{"s":"Ensemble-Mittel","h":102,"t":10.8,"p":1.1},{"s":"Ensemble-Mittel","h":108,"t":10.7,"p":1.5},{"s":"Ensemble-Mittel","h":114,"t":10.0,"p":1.6},{"s":"Ensemble-Mittel","h":120,"t":9.0,"p":1.4},{"s":"Ensemble-Mittel","h":126,"t":7.0,"p":1.1},{"s":"Ensemble-Mittel","h":132,"t":6.7,"p":1.0},{"s":"Ensemble-Mittel","h":138,"t":6.7,"p":1.0},{"s":"Ensemble-Mittel","h":144,"t":6.7,"p":0.6},{"s":"Ensemble-Mittel","h":150,"t":6.8,"p":1.0},{"s":"Ensemble-Mittel","h":156,"t":7.3,"p":2.2},{"s":"Ensemble-Mittel","h":162,"t":7.0,"p":1.5},{"s":"Ensemble-Mittel","h":168,"t":7.1,"p":0.6},{"s":"Ensemble-Mittel","h":174,"t":6.8,"p":0.4},{"s":"Ensemble-Mittel","h":180,"t":6.7,"p":0.4},{"s":"Ensemble-Mittel","h":186,"t":6.7,"p":0.5},{"s":"Ensemble-Mittel","h":192,"t":7.0,"p":0.6},{"s":"Ensemble-Mittel","h":198,"t":7.2,"p":1.3},{"s":"Ensemble-Mittel","h":204,"t":7.8,"p":1.4},{"s":"Ensemble-Mittel","h":210,"t":8.1,"p":1.6},{"s":"Ensemble-Mittel","h":216,"t":8.3,"p":1.7},{"s":"Ensemble-Mittel","h":222,"t":8.3,"p":2.4},{"s":"Ensemble-Mittel","h":228,"t":8.3,"p":1.6},{"s":"Ensemble-Mittel","h":234,"t":9.0,"p":0.8},{"s":"Ensemble-Mittel","h":240,"t":8.4,"p":1.2},{"s":"Ensemble-Mittel","h":246,"t":7.9,"p":1.2},{"s":"Ensemble-Mittel","h":252,"t":7.6,"p":0.8},{"s":"Ensemble-Mittel","h":258,"t":7.4,"p":1.3},{"s":"Ensemble-Mittel","h":264,"t":7.1,"p":0.8},{"s":"Ensemble-Mittel","h":270,"t":6.6,"p":0.5},{"s":"Ensemble-Mittel","h":276,"t":6.9,"p":0.9},{"s":"Ensemble-Mittel","h":282,"t":7.3,"p":0.7},{"s":"Ensemble-Mittel","h":288,"t":7.8,"p":0.6},{"s":"Ensemble-Mittel","h":294,"t":7.9,"p":1.3},{"s":"Ensemble-Mittel","h":300,"t":7.9,"p":2.3},{"s":"Ensemble-Mittel","h":306,"t":7.4,"p":1.4},{"s":"Ensemble-Mittel","h":312,"t":6.8,"p":0.5},{"s":"Ensemble-Mittel","h":318,"t":5.9,"p":0.1},{"s":"Ensemble-Mittel","h":324,"t":6.5,"p":0.1},{"s":"Ensemble-Mittel","h":330,"t":7.3,"p":0.1},{"s":"Ensemble-Mittel","h":336,"t":8.1,"p":0.1},{"s":"Ensemble-Mittel","h":342,"t":8.2,"p":0.2},{"s":"Ensemble-Mittel","h":348,"t":8.1,"p":0.3},{"s":"Ensemble-Mittel","h":354,"t":8.0,"p":0.9},{"s":"Ensemble-Mittel","h":360,"t":7.6,"p":0.8},{"s":"Ensemble-Mittel","h":366,"t":7.2,"p":0.6},{"s":"Ensemble-Mittel","h":372,"t":6.8,"p":0.6},{"s":"Ensemble-Mittel","h":378,"t":6.4,"p":0.8},
      {"s":"30-Jahres-Mittel","h":0,"t":6.7},{"s":"30-Jahres-Mittel","h":12,"t":7.4},{"s":"30-Jahres-Mittel","h":24,"t":8.0},{"s":"30-Jahres-Mittel","h":36,"t":8.15},{"s":"30-Jahres-Mittel","h":48,"t":8.1},{"s":"30-Jahres-Mittel","h":60,"t":7.9},{"s":"30-Jahres-Mittel","h":72,"t":7.7},{"s":"30-Jahres-Mittel","h":84,"t":7.45},{"s":"30-Jahres-Mittel","h":96,"t":7.2},{"s":"30-Jahres-Mittel","h":108,"t":6.8},{"s":"30-Jahres-Mittel","h":120,"t":6.5},{"s":"30-Jahres-Mittel","h":132,"t":6.45},{"s":"30-Jahres-Mittel","h":144,"t":6.4},{"s":"30-Jahres-Mittel","h":156,"t":6.4},{"s":"30-Jahres-Mittel","h":168,"t":6.4},{"s":"30-Jahres-Mittel","h":180,"t":6.35},{"s":"30-Jahres-Mittel","h":192,"t":6.3},{"s":"30-Jahres-Mittel","h":204,"t":6.2},{"s":"30-Jahres-Mittel","h":216,"t":6.05},{"s":"30-Jahres-Mittel","h":228,"t":6.1},{"s":"30-Jahres-Mittel","h":240,"t":6.4},{"s":"30-Jahres-Mittel","h":252,"t":6.8},{"s":"30-Jahres-Mittel","h":264,"t":7.0},{"s":"30-Jahres-Mittel","h":276,"t":6.6},{"s":"30-Jahres-Mittel","h":288,"t":6.5},{"s":"30-Jahres-Mittel","h":300,"t":6.5},{"s":"30-Jahres-Mittel","h":312,"t":6.5},{"s":"30-Jahres-Mittel","h":324,"t":6.4},{"s":"30-Jahres-Mittel","h":336,"t":6.4},{"s":"30-Jahres-Mittel","h":348,"t":6.3},{"s":"30-Jahres-Mittel","h":360,"t":6.1},{"s":"30-Jahres-Mittel","h":372,"t":5.7},{"s":"30-Jahres-Mittel","h":378,"t":5.5}
    ]
  },
  "encoding": {
    "x": {
      "field": "h",
      "type": "quantitative",
      "scale": {"domain": [0, 378], "nice": false, "zero": false},
      "axis": {
        "values": [96, 144, 192, 240, 288, 336],
        "labelExpr": "datum.value == 96 ? ['1SEP', '2006'] : datum.value == 144 ? '3SEP' : datum.value == 192 ? '5SEP' : datum.value == 240 ? '7SEP' : datum.value == 288 ? '9SEP' : '11SEP'",
        "grid": true,
        "gridColor": "#909090",
        "gridDash": [2, 4],
        "gridWidth": 1,
        "ticks": false,
        "domain": false,
        "labelColor": "white",
        "labelFontSize": 10,
        "labelPadding": 4,
        "labelLineHeight": 13,
        "title": "Daten: Ensembles des GFS von NCEP",
        "titleFont": "DejaVu Sans Mono",
        "titleFontSize": 13,
        "titleFontWeight": "normal",
        "titleColor": "white",
        "titleAlign": "left",
        "titleAnchor": "start",
        "titleBaseline": "alphabetic",
        "titleX": 0,
        "titleY": 48
      }
    }
  },
  "layer": [
    {
      "encoding": {
        "y": {
          "field": "t",
          "type": "quantitative",
          "scale": {"domain": [-30, 30], "nice": false},
          "axis": {
            "values": [-30, -25, -20, -15, -10, -5, 0, 5, 10, 15, 20, 25, 30],
            "grid": true,
            "gridColor": "#909090",
            "gridDash": [2, 4],
            "gridOpacity": {"condition": {"test": "datum.value == 30 || datum.value == -30", "value": 0}, "value": 1},
            "domain": false,
            "ticks": true,
            "tickColor": "white",
            "tickSize": 4,
            "labelColor": "white",
            "labelFontSize": 10,
            "labelPadding": 3,
            "title": "De_Bilt\u00a0 Lat: 52 Lon: 5",
            "titleAngle": 0,
            "titleAlign": "left",
            "titleBaseline": "alphabetic",
            "titleX": -73,
            "titleY": -38,
            "titleFontSize": 16,
            "titleFontWeight": "normal",
            "titleColor": "white"
          }
        }
      },
      "layer": [
        {
          "data": {"name": "members"},
          "mark": {"type": "line", "strokeWidth": 1},
          "encoding": {
            "stroke": {
              "field": "m",
              "type": "nominal",
              "scale": {
                "domain": [1, 2, 3, 4, 5, 6, 7, 8, 9, 10],
                "range": ["#d21414", "#ff501e", "#ff8c00", "#ffb000", "#ffe000", "#14e614", "#50ff3c", "#00dc96", "#00c8ff", "#1e78ff"]
              },
              "legend": null
            }
          }
        },
        {
          "data": {"name": "main"},
          "mark": {"type": "line"},
          "encoding": {
            "color": {
              "field": "s",
              "type": "nominal",
              "scale": {
                "domain": ["30-Jahres-Mittel", "Kontroll-Lauf", "Ensemble-Mittel"],
                "range": ["#ff0000", "#2a00ff", "#ffffff"]
              },
              "legend": {
                "title": null,
                "orient": "top-right",
                "offset": 0,
                "padding": 12,
                "strokeColor": "white",
                "fillColor": "black",
                "symbolType": "M1.5,0L17.5,0",
                "symbolSize": 25,
                "symbolStrokeWidth": 3,
                "labelOffset": 53,
                "labelFontSize": 11.5,
                "labelColor": "white",
                "rowPadding": 3
              }
            },
            "strokeWidth": {
              "field": "s",
              "type": "nominal",
              "scale": {
                "domain": ["30-Jahres-Mittel", "Kontroll-Lauf", "Ensemble-Mittel"],
                "range": [4, 3, 3]
              },
              "legend": null
            }
          }
        }
      ]
    },
    {
      "encoding": {
        "y": {
          "field": "p",
          "type": "quantitative",
          "scale": {"domain": [0, 50], "nice": false},
          "axis": {
            "orient": "right",
            "values": [0, 5, 10, 15, 20, 25, 30, 35, 40, 45, 50],
            "grid": false,
            "domain": false,
            "ticks": true,
            "tickColor": "white",
            "tickSize": 4,
            "labelColor": "white",
            "labelFontSize": 10,
            "labelPadding": 3,
            "title": "Wetterzentrale",
            "titleAngle": 0,
            "titleAlign": "left",
            "titleBaseline": "alphabetic",
            "titleX": -107,
            "titleY": 558,
            "titleFontSize": 16,
            "titleFontWeight": "normal",
            "titleColor": "white"
          }
        }
      },
      "layer": [
        {
          "data": {"name": "members"},
          "mark": {"type": "line", "strokeWidth": 1},
          "encoding": {
            "stroke": {"field": "m", "type": "nominal", "legend": null}
          }
        },
        {
          "data": {"name": "main"},
          "mark": {"type": "line"},
          "encoding": {
            "color": {"field": "s", "type": "nominal", "legend": null},
            "strokeWidth": {"field": "s", "type": "nominal", "legend": null}
          }
        }
      ]
    }
  ],
  "resolve": {"scale": {"y": "independent"}},
  "config": {
    "font": "DejaVu Sans",
    "view": {"stroke": "white", "strokeWidth": 2},
    "axis": {"labelFont": "DejaVu Sans", "titleFont": "DejaVu Sans"},
    "legend": {"labelFont": "DejaVu Sans"}
  }
}
